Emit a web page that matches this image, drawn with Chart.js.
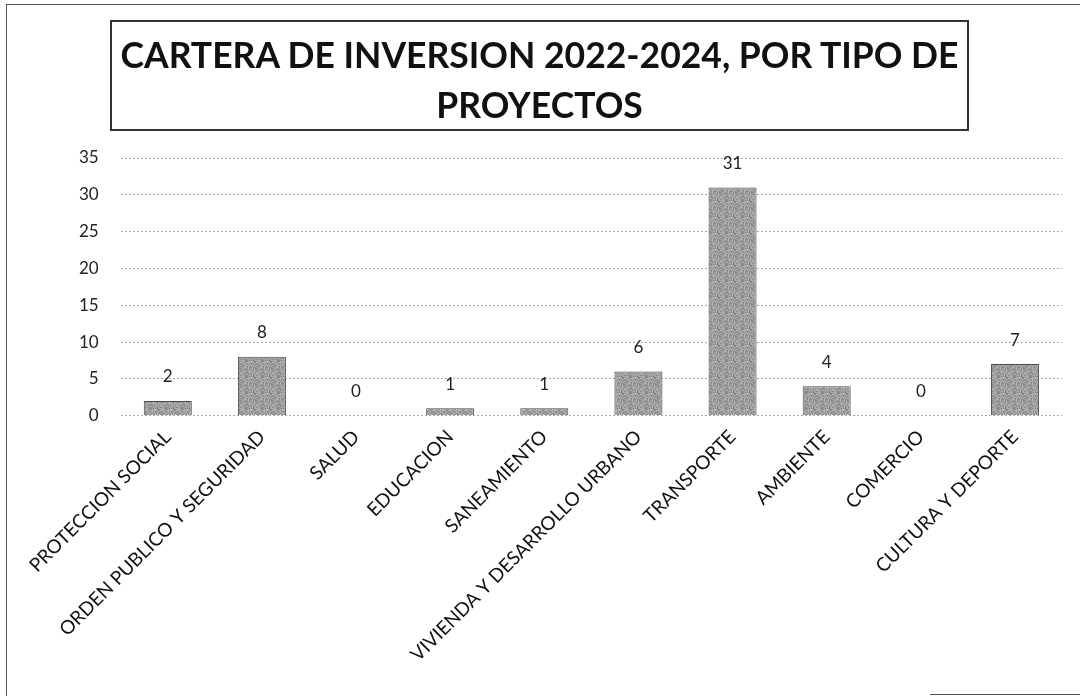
<!DOCTYPE html>
<html>
<head>
<meta charset="utf-8">
<script src="https://cdn.jsdelivr.net/npm/chart.js@4.4.1/dist/chart.umd.min.js"></script>
<style>
  html, body { margin: 0; padding: 0; background: #fff; }
  #wrap { position: relative; width: 1080px; height: 696px; overflow: hidden; }
  #chart { position: absolute; left: 0; top: 0; }
  .edge { position: absolute; background: #555; }
  #title {
    position: absolute; left: 110px; top: 20px; width: 855px; height: 99px;
    border: 2px solid #333; box-sizing: content-box;
    font-family: Lato, "Open Sans", sans-serif; font-weight: bold;
    font-size: 35.5px; line-height: 50px; color: #111; text-align: center;
    padding-top: 8px;
  }
</style>
</head>
<body>
<div id="wrap">
  <canvas id="chart" width="1080" height="696"></canvas>
  <div class="edge" style="left:6px; top:4px; width:1074px; height:1px;"></div>
  <div class="edge" style="left:6px; top:4px; width:1px; height:692px;"></div>
  <div class="edge" style="left:930px; top:694px; width:150px; height:1px;"></div>
  <div id="title">CARTERA DE INVERSION 2022-2024, POR TIPO DE<br>PROYECTOS</div>
</div>
<script>
// Project portfolio by type
const categories = [
  'PROTECCION SOCIAL',
  'ORDEN PUBLICO Y SEGURIDAD',
  'SALUD',
  'EDUCACION',
  'SANEAMIENTO',
  'VIVIENDA Y DESARROLLO URBANO',
  'TRANSPORTE',
  'AMBIENTE',
  'COMERCIO',
  'CULTURA Y DEPORTE'
];
const projectCounts = [2, 8, 0, 1, 1, 6, 31, 4, 0, 7];
const yTicks = [0, 5, 10, 15, 20, 25, 30, 35];

// Small speckled gray fill for the bars (fixed hash, same every run)
function speckleFill() {
  const c = document.createElement('canvas');
  c.width = 16; c.height = 16;
  const g = c.getContext('2d');
  const img = g.createImageData(16, 16);
  for (let y = 0; y < 16; y++) {
    for (let x = 0; x < 16; x++) {
      const h = ((x * 73856093) ^ (y * 19349663)) >>> 0;
      const v = 150 + ((h % 61) - 30) + ((x * 7 + y * 13) % 5) * 4;
      const i = (y * 16 + x) * 4;
      img.data[i] = v; img.data[i + 1] = v; img.data[i + 2] = v; img.data[i + 3] = 255;
    }
  }
  g.putImageData(img, 0, 0);
  return g.createPattern(c, 'repeat');
}

// Writes each bar's value above it
const valueLabels = {
  id: 'valueLabels',
  afterDatasetsDraw(chart) {
    const ctx = chart.ctx;
    const meta = chart.getDatasetMeta(0);
    ctx.save();
    ctx.font = '17px Lato, "Open Sans", sans-serif';
    ctx.fillStyle = '#222';
    ctx.textAlign = 'center';
    ctx.textBaseline = 'middle';
    meta.data.forEach((bar, i) => {
      ctx.fillText(String(chart.data.datasets[0].data[i]), bar.x, bar.y - 24);
    });
    ctx.restore();
  }
};

new Chart(document.getElementById('chart'), {
  type: 'bar',
  data: {
    labels: categories,
    datasets: [{
      data: projectCounts,
      backgroundColor: speckleFill(),
      borderColor: '#4a4a4a',
      borderWidth: 1,
      categoryPercentage: 1,
      barPercentage: 0.51
    }]
  },
  options: {
    responsive: false,
    animation: false,
    layout: { padding: { left: 57, right: 18, top: 158, bottom: 28 } },
    plugins: {
      legend: { display: false },
      tooltip: { enabled: false }
    },
    scales: {
      x: {
        grid: { display: false },
        border: { display: false },
        afterFit(axis) { axis.paddingLeft = 0; },
        ticks: {
          autoSkip: false,
          minRotation: 45,
          maxRotation: 45,
          padding: 2,
          color: '#111',
          font: { family: 'Lato, "Open Sans", sans-serif', size: 19 }
        }
      },
      y: {
        min: 0,
        max: 35,
        afterBuildTicks(axis) { axis.ticks = yTicks.map(v => ({ value: v })); },
        border: { display: false, dash: [2, 2] },
        grid: {
          color: '#a8a8a8',
          lineWidth: 1,
          drawTicks: false
        },
        ticks: {
          padding: 22,
          color: '#222',
          font: { family: 'Lato, "Open Sans", sans-serif', size: 17 }
        }
      }
    }
  },
  plugins: [valueLabels]
});
</script>
</body>
</html>
